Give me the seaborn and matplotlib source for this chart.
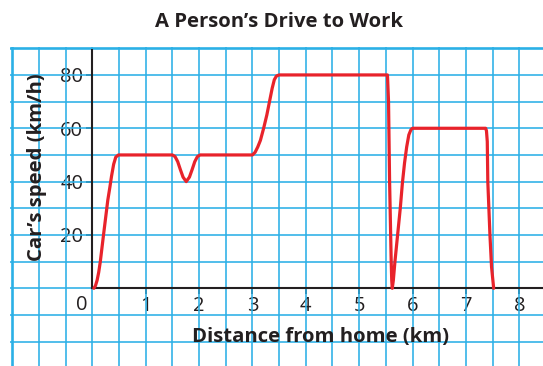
import matplotlib
matplotlib.use("Agg")
import matplotlib.pyplot as plt
import numpy as np
import pandas as pd
import seaborn as sns

# Distance from home (km) and car speed (km/h) along the drive
distance_km = [0.03, 0.06, 0.09, 0.12, 0.15, 0.18, 0.21, 0.25, 0.29, 0.33, 0.36, 0.40, 0.44, 0.49,
               1.50, 1.55, 1.60, 1.65, 1.70, 1.76, 1.82, 1.87, 1.92, 1.97, 2.02,
               3.00, 3.05, 3.10, 3.15, 3.21, 3.27, 3.32, 3.37, 3.41, 3.45, 3.50,
               5.53, 5.55, 5.56, 5.57, 5.585, 5.60, 5.61, 5.62, 5.64, 5.67, 5.72, 5.77, 5.81,
               5.85, 5.89, 5.93, 5.97, 6.00,
               7.37, 7.385, 7.40, 7.41, 7.45, 7.48, 7.52]
speed_kmh = [0, 1, 3, 6, 10, 15, 20, 26.5, 33, 38, 42, 46.5, 49.2, 50,
             50, 49.4, 47.5, 44.5, 41.7, 40, 41.7, 44.5, 47.5, 49.4, 50,
             50, 51, 53, 55.5, 60, 65, 70, 75, 78.2, 79.6, 80,
             80, 70, 55, 40, 25, 10, 3, 0, 3, 10, 20, 30, 39.5,
             47, 53, 57.5, 59.5, 60,
             60, 59, 55, 40, 20, 8, 0]

x_ticks = [1, 2, 3, 4, 5, 6, 7, 8]
y_ticks = [20, 40, 60, 80]

title = "A Person\u2019s Drive to Work"
x_label = "Distance from home (km)"
y_label = "Car\u2019s speed (km/h)"

sns.set_theme(style="white")
plt.rcParams["font.family"] = ["Open Sans", "DejaVu Sans"]

W, H = 543, 366
fig = plt.figure(figsize=(W / 100, H / 100), dpi=100)
fig.patch.set_facecolor("white")

# axes spans from pixel x=10 to the right edge, from y=47 to the bottom edge
ax = fig.add_axes([10 / W, 0, 533 / W, (H - 47) / H])
px_per_km = 53.375
px_per_kmh = 2.667
x0_px, y0_px = 92.3, 288.3
ax.set_xlim((10 - x0_px) / px_per_km, (W - x0_px) / px_per_km)
ax.set_ylim((y0_px - H) / px_per_kmh, (y0_px - 47) / px_per_kmh)
ax.set_facecolor("white")

grid_blue = "#2BB0E6"
for gx in np.arange(-1.0, 8.51, 0.5):
    ax.axvline(gx, color=grid_blue, lw=1.15, zorder=1)
for gy in np.arange(-30, 81, 10):
    ax.axhline(gy, color=grid_blue, lw=1.15, zorder=1)
# heavier border lines of the graph paper
ax.axvline(-1.5, color=grid_blue, lw=1.9, zorder=1)
ax.axhline(90, color=grid_blue, lw=1.9, zorder=1)

df = pd.DataFrame({"distance": distance_km, "speed": speed_kmh})
sns.lineplot(data=df, x="distance", y="speed", sort=False, color="#E8232B",
             lw=2.3, ax=ax, zorder=4, estimator=None)

for s in ["top", "right"]:
    ax.spines[s].set_visible(False)
axis_black = "#231F20"
ax.spines["left"].set_position(("data", 0))
ax.spines["bottom"].set_position(("data", 0))
ax.spines["left"].set_bounds(0, 89.5)
ax.spines["bottom"].set_bounds(0, 9)
for s in ["left", "bottom"]:
    ax.spines[s].set_color(axis_black)
    ax.spines[s].set_linewidth(1.5)
    ax.spines[s].set_zorder(3)

tick_font = dict(fontsize=14.5, fontweight="medium")
ax.set_xticks(x_ticks)
ax.set_yticks(y_ticks)
ax.set_xticklabels([str(v) for v in x_ticks], **tick_font)
ax.set_yticklabels([str(v) for v in y_ticks], **tick_font)
ax.tick_params(axis="both", direction="out", length=4.5, width=1.3,
               color=axis_black, labelcolor=axis_black)
ax.tick_params(axis="x", bottom=True, pad=1.0)
ax.tick_params(axis="y", left=True, pad=2.0)
ax.set_xlabel("")
ax.set_ylabel("")

ax.text(-0.2, -8.3, "0", ha="center", va="baseline", color=axis_black, **tick_font)

label_font = dict(fontsize=14.6, fontweight="bold", color=axis_black)
fig.text(279 / W, 1 - 26.7 / H, title, ha="center", va="baseline", **label_font)
fig.text(320 / W, 1 - 342 / H, x_label, ha="center", va="baseline", **label_font)
fig.text(37 / W, 1 - 167.5 / H, y_label, ha="center", va="center", rotation=90,
         **label_font)

fig.savefig("out.png", dpi=100, facecolor="white")
